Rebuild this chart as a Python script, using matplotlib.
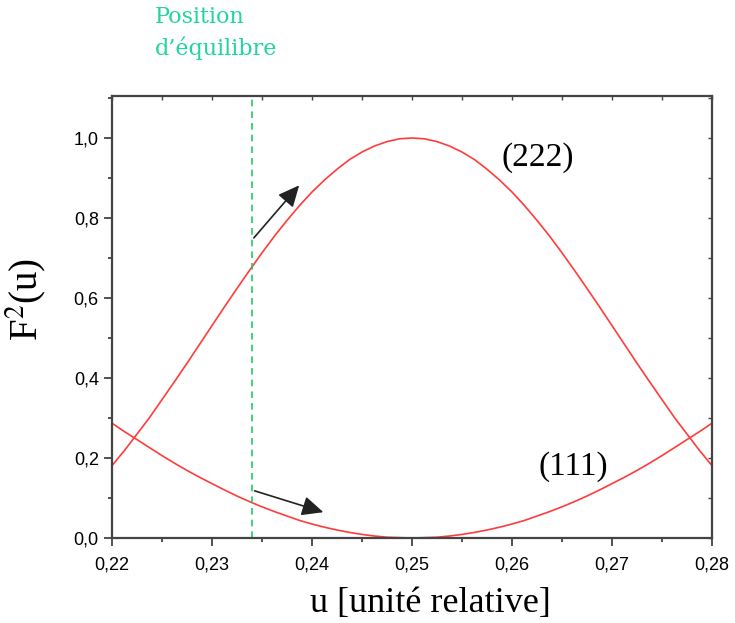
import matplotlib.pyplot as plt
from matplotlib.ticker import MultipleLocator, FuncFormatter

plt.rcParams['mathtext.fontset'] = 'stix'

# valeurs
u = [0.22, 0.22125, 0.2225, 0.22375, 0.225, 0.22625, 0.2275, 0.22875, 0.23, 0.23125,
     0.2325, 0.23375, 0.235, 0.23625, 0.2375, 0.23875, 0.24, 0.24125, 0.2425, 0.24375,
     0.245, 0.24625, 0.2475, 0.24875, 0.25, 0.25125, 0.2525, 0.25375, 0.255, 0.25625,
     0.2575, 0.25875, 0.26, 0.26125, 0.2625, 0.26375, 0.265, 0.26625, 0.2675, 0.26875,
     0.27, 0.27125, 0.2725, 0.27375, 0.275, 0.27625, 0.2775, 0.27875, 0.28]
f222 = [0.181, 0.219, 0.260, 0.301, 0.346, 0.391, 0.437, 0.484, 0.531, 0.578,
        0.624, 0.669, 0.713, 0.755, 0.794, 0.831, 0.865, 0.895, 0.922, 0.946,
        0.965, 0.980, 0.991, 0.998, 1.000, 0.998, 0.991, 0.980, 0.965, 0.946,
        0.922, 0.895, 0.865, 0.831, 0.794, 0.755, 0.713, 0.669, 0.624, 0.578,
        0.531, 0.484, 0.437, 0.391, 0.346, 0.301, 0.260, 0.219, 0.181]
f111 = [0.287, 0.266, 0.246, 0.226, 0.206, 0.187, 0.169, 0.152, 0.136, 0.120,
        0.105, 0.091, 0.078, 0.066, 0.055, 0.044, 0.035, 0.027, 0.020, 0.014,
        0.009, 0.005, 0.002, 0.001, 0.000, 0.001, 0.002, 0.005, 0.009, 0.014,
        0.020, 0.027, 0.035, 0.044, 0.055, 0.066, 0.078, 0.091, 0.105, 0.120,
        0.136, 0.152, 0.169, 0.187, 0.206, 0.226, 0.246, 0.266, 0.287]
u_eq = 0.234

fig = plt.figure(figsize=(7.35, 6.23), dpi=100)
ax = fig.add_axes([0.1524, 0.1364, 0.8163, 0.7095])

ax.plot(u, f222, color='#ff3b3b', lw=1.2)
ax.plot(u, f111, color='#ff3b3b', lw=1.2)
ax.axvline(u_eq, color='#22cc66', lw=1.2, ls=(0, (4, 3)))

# flèches
arrow = dict(arrowstyle='-|>,head_length=1.3,head_width=0.6', color='#222222', lw=1.2)
ax.annotate('', xy=(0.2389, 0.887), xytext=(u_eq, 0.745), arrowprops=arrow)
ax.annotate('', xy=(0.2414, 0.0625), xytext=(u_eq, 0.12), arrowprops=arrow)

ax.text(0.2626, 0.95, '(222)', family='Liberation Serif', fontsize=24, ha='center', va='center')
ax.text(0.2661, 0.178, '(111)', family='Liberation Serif', fontsize=24, ha='center', va='center')

ax.set_xlim(0.22, 0.28)
ax.set_ylim(0, 1.105)
ax.xaxis.set_major_locator(MultipleLocator(0.01))
ax.xaxis.set_minor_locator(MultipleLocator(0.005))
ax.yaxis.set_major_locator(MultipleLocator(0.2))
ax.yaxis.set_minor_locator(MultipleLocator(0.1))
ax.xaxis.set_major_formatter(FuncFormatter(lambda v, p: f'{v:.2f}'.replace('.', ',')))
ax.yaxis.set_major_formatter(FuncFormatter(lambda v, p: f'{v:.1f}'.replace('.', ',')))

ax.tick_params(which='both', direction='out', labelsize=13, color='#333333')
ax.tick_params(which='major', length=6, width=1.2)
ax.tick_params(which='minor', length=3, width=1.2)
ax.tick_params(axis='x', which='major', pad=7)
for s in ax.spines.values():
    s.set_linewidth(1.6)
    s.set_color('#444444')
for lab in ax.get_xticklabels() + ax.get_yticklabels():
    lab.set_family('Liberation Sans')

# petites graduations internes en haut et à droite
top = ax.secondary_xaxis('top')
top.xaxis.set_major_locator(MultipleLocator(0.005))
top.tick_params(direction='in', length=3, width=1.0, labeltop=False, color='#444444')
top.spines['top'].set_visible(False)
right = ax.secondary_yaxis('right')
right.yaxis.set_major_locator(MultipleLocator(0.1))
right.tick_params(direction='in', length=3, width=1.0, labelright=False, color='#444444')
right.spines['right'].set_visible(False)

ax.set_xlabel('u [unité relative]', family='Liberation Serif', fontsize=26)
ax.xaxis.set_label_coords(0.53, -0.11)
ax.set_ylabel('F$^2$(u)', family='Liberation Serif', fontsize=28)
ax.yaxis.set_label_coords(-0.106, 0.54)

fig.text(155 / 735, 1 - 6 / 623, 'Position', color='#22d4a0', family='DejaVu Serif',
         fontsize=16, ha='left', va='top')
fig.text(155 / 735, 1 - 37 / 623, 'd\u2019équilibre', color='#22d4a0', family='DejaVu Serif',
         fontsize=16, ha='left', va='top')

fig.savefig('out.png', dpi=100)
